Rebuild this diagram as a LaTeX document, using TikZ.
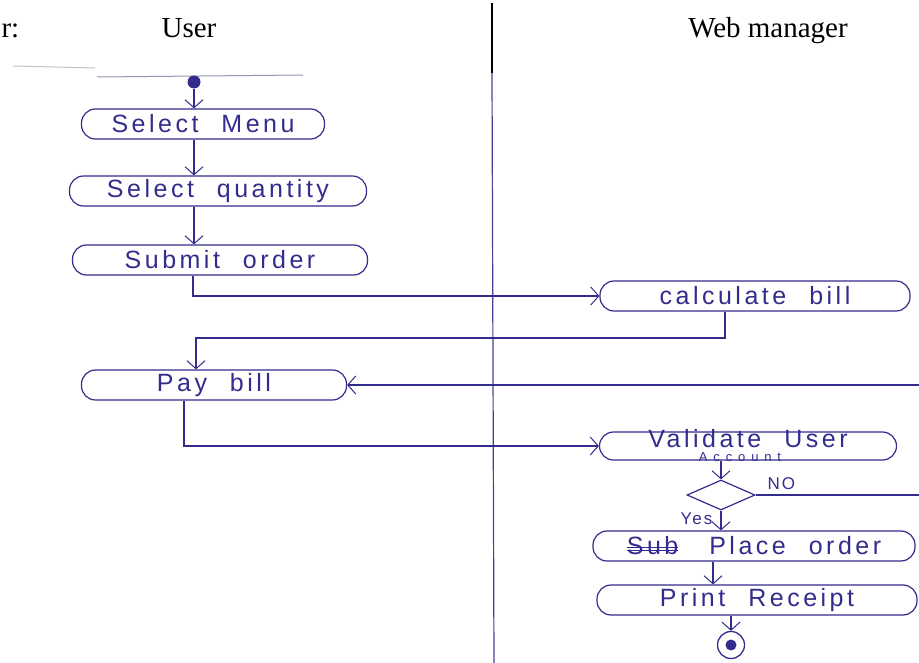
\documentclass[tikz,border=0pt]{standalone}
\usepackage{fontspec}
\setmainfont{Liberation Serif}
\newfontfamily\hand[LetterSpace=14,WordSpace=2.2]{Liberation Sans}
\newfontfamily\handsmall[LetterSpace=12]{Liberation Sans}
\newfontfamily\handwide[LetterSpace=45]{Liberation Sans}
\usetikzlibrary{arrows.meta,shapes.geometric}
\definecolor{ink}{RGB}{52,44,140}
\definecolor{faint}{RGB}{150,150,175}
% struck-out word
\newcommand\crossedout[1]{\setbox0\hbox{#1}\rlap{\raisebox{0.3ex}{\rule{\wd0}{1pt}}}\rlap{\raisebox{0.55ex}{\rule{\wd0}{0.8pt}}}\box0}
\tikzset{
  act/.style={draw=ink, line width=1.2pt, rounded corners=14pt, minimum height=30pt,
    inner sep=2pt, text=ink, font=\hand\fontsize{25}{27}\selectfont},
  label text/.style={text=ink, inner sep=0pt, font=\hand\fontsize{25}{27}\selectfont},
  flow/.style={ink, line width=1.2pt, -{Straight Barb[length=8pt,width=18pt,line width=1pt]}},
  link/.style={ink, line width=1.2pt},
  lane/.style={font=\fontsize{29}{32}\selectfont},
  guard/.style={text=ink, font=\handsmall\fontsize{17}{19}\selectfont}
}
\begin{document}
\begin{tikzpicture}[x=1pt,y=-1pt]
\useasboundingbox (0,0) rectangle (919,663);
\fill[white] (0,0) rectangle (919,663);

% swimlane headers
\node[lane, anchor=base west] (hr) at (-2,38) {r:};
\node[lane, anchor=base] (huser) at (189,38) {User};
\node[lane, anchor=base] (hweb) at (768,38) {Web manager};

% lane divider
\coordinate (d0) at (492,3);
\coordinate (d1) at (492,73);
\coordinate (d2) at (494,663);
\draw[black, line width=1.3pt] (d0) -- (d1);
\draw[ink!90, line width=1.2pt] (d1) -- (d2);

% faint rule over the start node
\coordinate (r0) at (13,66);
\coordinate (r1) at (95,68);
\coordinate (r2) at (97,77);
\coordinate (r3) at (303,75);
\draw[faint!60, line width=1pt] (r0) -- (r1);
\draw[faint, line width=1pt] (r2) -- (r3);

% user lane
\node[circle, fill=ink, inner sep=0pt, minimum size=13pt] (start) at (194,82) {};
\node[act, minimum width=243pt] (menu) at (203,124) {Select Menu};
\node[act, minimum width=297pt] (qty) at (218,191) {Select quantity};
\node[act, minimum width=295pt] (submit) at (220,260) {Submit order};
\node[act, minimum width=265pt] (pay) at (214,385) {Pay bill};

% web manager lane
\node[act, minimum width=310pt] (calc) at (755,296) {calculate bill};
\node[act, minimum width=297pt, minimum height=28pt] (valid) at (748,446) {};
\node[label text, anchor=base] (validtext) at (748,447) {Validate User};
\node[text=ink, font=\handwide\fontsize{13}{14}\selectfont, inner sep=0pt] (acct) at (740,457) {Account};
\node[diamond, draw=ink, line width=1.2pt, minimum width=68pt, minimum height=30pt,
      inner sep=0pt] (dec) at (721,495) {};
\node[guard, anchor=west] (no) at (764,484) {NO};
\node[guard, anchor=east] (yes) at (716,519) {Yes};
\node[act, minimum width=322pt] (place) at (754,546) {\crossedout{Sub}\hspace{8pt} Place order};
\node[act, minimum width=320pt] (print) at (757,600) {Print Receipt};
\node[circle, draw=ink, line width=1.3pt, minimum size=27pt, inner sep=0pt] (stop) at (731,645) {};
\node[circle, fill=ink, minimum size=11pt, inner sep=0pt] at (stop.center) {};

% right-edge return path
\coordinate (e1) at (919,498);
\coordinate (e2) at (919,385);

% control flow
\draw[flow] (start) -- (menu.north -| start);
\draw[flow] (menu.south -| start) -- (qty.north -| start);
\draw[flow] (qty.south -| start) -- (submit.north -| start);
\draw[flow] (submit.south -| 193,0) |- (calc.west);
\draw[flow] (calc.south -| 725,0) |- (196,338) -- (pay.north -| 196,0);
\draw[flow] (pay.south -| 184,0) |- (valid.west);
\draw[flow] (valid.south -| dec.north) -- (dec.north);
\draw[link] (dec.east) -- (dec.east -| e1);
\draw[flow] (e2) -- (pay.east);
\draw[flow] (dec.south) -- (place.north -| dec.south);
\draw[flow] (place.south -| 713,0) -- (print.north -| 713,0);
\draw[flow] (print.south -| stop.north) -- (stop.north);
\end{tikzpicture}
\end{document}
